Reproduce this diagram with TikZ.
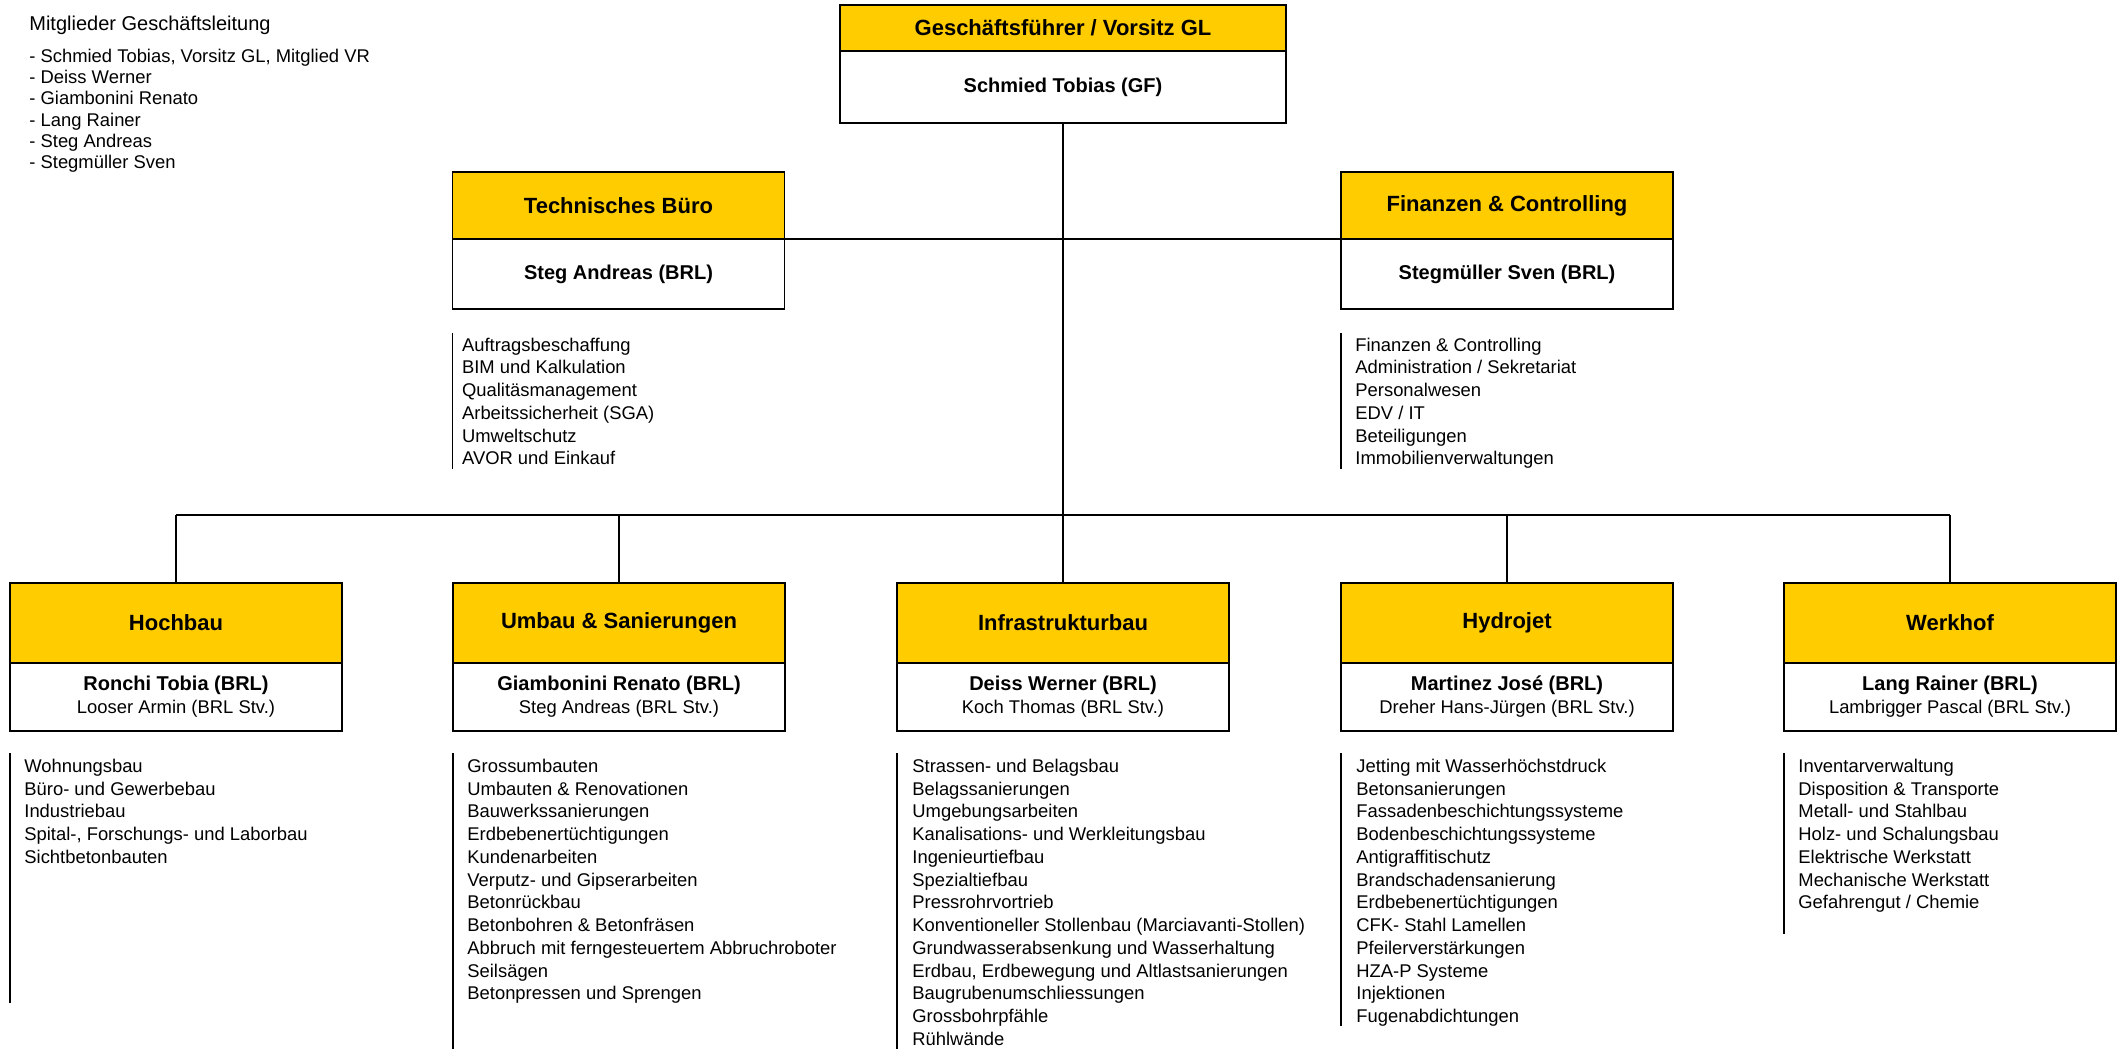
\documentclass[tikz,border=0pt]{standalone}
\usepackage{fontspec}
\setmainfont{Liberation Sans}
\usetikzlibrary{positioning}
\definecolor{gelb}{RGB}{255,204,0}
\newcommand{\stvname}[1]{{\fontsize{9.2}{11.5}\selectfont #1}}

\begin{document}
\begin{tikzpicture}[x=0.5pt,y=-0.5pt,
  head/.style={draw, line width=0.9pt, fill=gelb, inner sep=0pt, outer sep=0pt,
    minimum width=166pt, minimum height=40pt, font=\fontsize{11}{13}\selectfont\bfseries},
  who/.style={draw, line width=0.9pt, fill=white, inner sep=0pt, outer sep=0pt, align=center,
    minimum width=166pt, minimum height=34pt, font=\fontsize{10}{11.5}\selectfont},
  conn/.style={line width=0.6pt},
  busline/.style={line width=1.1pt},
  listbar/.style={line width=0.8pt},
  listitem/.style={anchor=base west, inner sep=0pt, font=\fontsize{9.2}{11}\selectfont}]
\useasboundingbox (0,0) rectangle (2119,1049);

% Mitglieder der Geschaeftsleitung
\node[anchor=base west, inner sep=0pt, font=\fontsize{10}{12}\selectfont] (gl-title) at (29,30) {Mitglieder Geschäftsleitung};
\foreach \txt [count=\i] in {{Schmied Tobias, Vorsitz GL, Mitglied VR}, Deiss Werner, Giambonini Renato, Lang Rainer, Steg Andreas, Stegmüller Sven}
  \node[listitem] (gl-\i) at (29,{62.7+21.1*(\i-1)}) {- \txt};

% Geschaeftsfuehrer
\node[head, minimum width=223pt, minimum height=23pt] (gf-head) at (1063,28) {Geschäftsführer / Vorsitz GL};
\node[who, minimum width=223pt, minimum height=36pt, below=0pt of gf-head] (gf-name) {\textbf{Schmied Tobias (GF)}};

% Stabsstellen
\node[head, minimum height=33.5pt] (tb-head) at (618.5,205.5) {Technisches Büro};
\node[who, minimum height=35pt, below=0pt of tb-head] (tb-name) {\textbf{Steg Andreas (BRL)}};
\node[head, minimum height=33.5pt] (fc-head) at (1507,205.5) {Finanzen \& Controlling};
\node[who, minimum height=35pt, below=0pt of fc-head] (fc-name) {\textbf{Stegmüller Sven (BRL)}};

% Bereiche
\node[head] (hb-head) at (176,623) {Hochbau};
\node[who, below=0pt of hb-head] (hb-name) {\textbf{Ronchi Tobia (BRL)}\\\stvname{Looser Armin (BRL Stv.)}};
\node[head] (us-head) at (619,623) {Umbau \& Sanierungen};
\node[who, below=0pt of us-head] (us-name) {\textbf{Giambonini Renato (BRL)}\\\stvname{Steg Andreas (BRL Stv.)}};
\node[head] (ib-head) at (1063,623) {Infrastrukturbau};
\node[who, below=0pt of ib-head] (ib-name) {\textbf{Deiss Werner (BRL)}\\\stvname{Koch Thomas (BRL Stv.)}};
\node[head] (hj-head) at (1507,623) {Hydrojet};
\node[who, below=0pt of hj-head] (hj-name) {\textbf{Martinez José (BRL)}\\\stvname{Dreher Hans-Jürgen (BRL Stv.)}};
\node[head] (wh-head) at (1950,623) {Werkhof};
\node[who, below=0pt of wh-head] (wh-name) {\textbf{Lang Rainer (BRL)}\\\stvname{Lambrigger Pascal (BRL Stv.)}};

% Verbindungen
\coordinate (bus) at (1063,515);
\draw[conn] (gf-name.south) -- (bus);
\draw[conn] (tb-head.south east) -- (fc-head.south west);
\draw[busline] (hb-head.north |- bus) -- (wh-head.north |- bus);
\foreach \n in {hb,us,ib,hj,wh}
  \draw[conn] (\n-head.north) -- (\n-head.north |- bus);

% Aufgabenlisten
\draw[listbar] (tb-name.south west) ++(0,24) -- ++(0,136);
\foreach \txt [count=\i] in {Auftragsbeschaffung, BIM und Kalkulation, Qualitäsmanagement, Arbeitssicherheit (SGA), Umweltschutz, AVOR und Einkauf}
  \node[listitem] (tb-l\i) at (461.7,{351+22.75*(\i-1)}) {\txt};

\draw[listbar] (fc-name.south west) ++(0,24) -- ++(0,136);
\foreach \txt [count=\i] in {Finanzen \& Controlling, Administration / Sekretariat, Personalwesen, EDV / IT, Beteiligungen, Immobilienverwaltungen}
  \node[listitem] (fc-l\i) at (1355,{351+22.75*(\i-1)}) {\txt};

\draw[listbar] (hb-name.south west) ++(0,22) -- ++(0,250);
\foreach \txt [count=\i] in {Wohnungsbau, Büro- und Gewerbebau, Industriebau, {Spital-, Forschungs- und Laborbau}, Sichtbetonbauten}
  \node[listitem] (hb-l\i) at (24,{772.3+22.75*(\i-1)}) {\txt};

\draw[listbar] (us-name.south west) ++(0,22) -- ++(0,296);
\foreach \txt [count=\i] in {Grossumbauten, Umbauten \& Renovationen, Bauwerkssanierungen, Erdbebenertüchtigungen, Kundenarbeiten, Verputz- und Gipserarbeiten, Betonrückbau, Betonbohren \& Betonfräsen, Abbruch mit ferngesteuertem Abbruchroboter, Seilsägen, Betonpressen und Sprengen}
  \node[listitem] (us-l\i) at (467,{772.3+22.75*(\i-1)}) {\txt};

\draw[listbar] (ib-name.south west) ++(0,22) -- ++(0,296);
\foreach \txt [count=\i] in {Strassen- und Belagsbau, Belagssanierungen, Umgebungsarbeiten, Kanalisations- und Werkleitungsbau, Ingenieurtiefbau, Spezialtiefbau, Pressrohrvortrieb, Konventioneller Stollenbau (Marciavanti-Stollen), Grundwasserabsenkung und Wasserhaltung, {Erdbau, Erdbewegung und Altlastsanierungen}, Baugrubenumschliessungen, Grossbohrpfähle, Rühlwände}
  \node[listitem] (ib-l\i) at (912,{772.3+22.75*(\i-1)}) {\txt};

\draw[listbar] (hj-name.south west) ++(0,22) -- ++(0,273);
\foreach \txt [count=\i] in {Jetting mit Wasserhöchstdruck, Betonsanierungen, Fassadenbeschichtungssysteme, Bodenbeschichtungssysteme, Antigraffitischutz, Brandschadensanierung, Erdbebenertüchtigungen, CFK- Stahl Lamellen, Pfeilerverstärkungen, HZA-P Systeme, Injektionen, Fugenabdichtungen}
  \node[listitem] (hj-l\i) at (1356,{772.3+22.75*(\i-1)}) {\txt};

\draw[listbar] (wh-name.south west) ++(0,22) -- ++(0,181);
\foreach \txt [count=\i] in {Inventarverwaltung, Disposition \& Transporte, Metall- und Stahlbau, Holz- und Schalungsbau, Elektrische Werkstatt, Mechanische Werkstatt, Gefahrengut / Chemie}
  \node[listitem] (wh-l\i) at (1798,{772.3+22.75*(\i-1)}) {\txt};
\end{tikzpicture}
\end{document}
